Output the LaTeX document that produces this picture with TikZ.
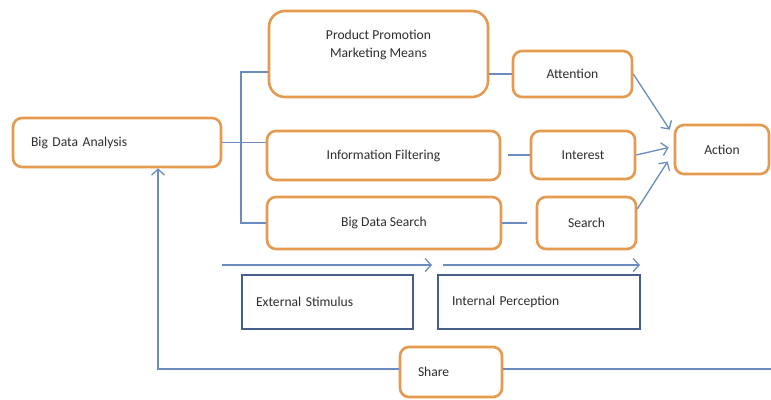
\documentclass[tikz,border=0pt]{standalone}
\usepackage{fontspec}
\setmainfont{Carlito}
\usetikzlibrary{arrows.meta}

\definecolor{boxorange}{HTML}{E59A50}
\definecolor{linkblue}{HTML}{6A8CC0}
\definecolor{framenavy}{HTML}{44608A}

\begin{document}
\begin{tikzpicture}[x=1pt, y=-1pt,
    txt/.style={font=\fontsize{13.6}{17.5}\selectfont, text=black!82},
    stage/.style={txt, draw=boxorange, line width=2.6pt, rounded corners=9pt,
      fill=white, inner sep=0pt},
    frame/.style={txt, draw=framenavy, line width=1.8pt, inner sep=0pt},
    link/.style={linkblue, line width=1.3pt},
    flow/.style={link, -{Straight Barb[length=6pt, width=13pt, line width=1.3pt]}}]
  \useasboundingbox (0,0) rectangle (771,399);

  % boxes of the model
  \node[stage, minimum width=208pt, minimum height=49pt, text width=172pt,
    inner xsep=18pt, align=left] (analysis) at (117,142.5) {Big Data Analysis};
  \node[stage, rounded corners=16pt, minimum width=219pt, minimum height=86pt,
    label={[txt, anchor=north, align=center, yshift=-17pt]90:{Product Promotion\\Marketing Means}}]
    (promo) at (378.5,54) {};
  \node[stage, minimum width=233pt, minimum height=49pt] (filter) at (383.5,155.5) {Information Filtering};
  \node[stage, minimum width=234pt, minimum height=52pt] (bdsearch) at (384,223) {Big Data Search};
  \node[stage, minimum width=119pt, minimum height=46pt] (attention) at (572.5,74) {Attention};
  \node[stage, minimum width=104pt, minimum height=48pt] (interest) at (583,155) {Interest};
  \node[stage, minimum width=99pt, minimum height=52pt] (search) at (586.5,223) {Search};
  \node[stage, minimum width=94pt, minimum height=49pt] (action) at (722,149.5) {Action};
  \node[stage, minimum width=102pt, minimum height=50pt, text width=66pt,
    inner xsep=18pt, align=left] (share) at (451,372) {Share};

  \node[frame, minimum width=171pt, minimum height=54pt, text width=143pt,
    inner xsep=14pt, align=left] (external) at (327.5,302) {External Stimulus};
  \node[frame, minimum width=202pt, minimum height=54pt, text width=174pt,
    inner xsep=14pt, align=left] (internal) at (539,302) {Internal Perception};

  % branches out of the analysis
  \coordinate (fork) at (241,72);
  \draw[link] (promo.west |- fork) -- (fork) |- (bdsearch.west);
  \draw[link] (analysis.east) -- (analysis.east -| filter.west);
  \draw[link] (promo.east |- attention.west) -- (attention.west);
  \draw[link] ([xshift=7pt]filter.east |- interest.west) -- (interest.west);
  \draw[link] (bdsearch.east) -- ([xshift=-9pt]search.west);

  % towards the action
  \draw[flow] (attention.east) -- ([xshift=-4pt, yshift=-6pt]action.north west);
  \draw[flow] (interest.east) -- ([xshift=-5pt, yshift=2pt]action.west);
  \draw[flow] ([yshift=14pt]search.east) -- ([xshift=-6pt, yshift=-12pt]action.west);

  % stimulus and perception
  \coordinate (s1) at (222,265);
  \coordinate (s2) at (432,265);
  \coordinate (p1) at (443,265);
  \coordinate (p2) at (640,265);
  \draw[flow] (s1) -- (s2);
  \draw[flow] (p1) -- (p2);

  % feedback through sharing
  \coordinate (edge) at (771,369);
  \coordinate (turn) at (158,369);
  \draw[link] (edge) -- (share.east |- edge);
  \draw[flow] (share.west |- turn) -- (turn) -- (turn |- analysis.south);
\end{tikzpicture}
\end{document}
